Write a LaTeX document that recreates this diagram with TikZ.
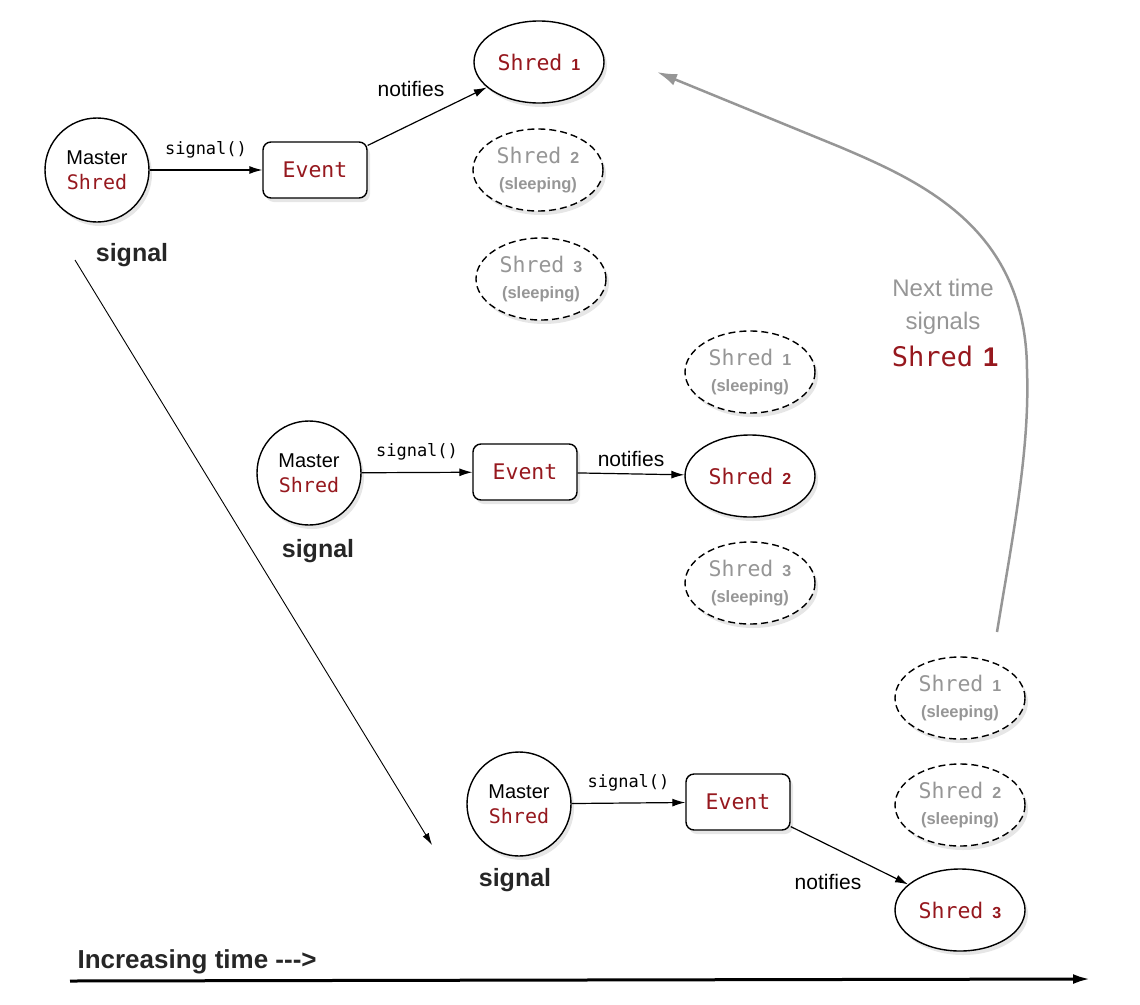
\documentclass[tikz,border=0pt]{standalone}
\usepackage{fontspec}
\setmainfont{Liberation Sans}
\newfontfamily\monofont{DejaVu Sans Mono}
\usepackage{tikz}
\usetikzlibrary{arrows.meta,shapes.geometric,shadows}
\definecolor{shredred}{RGB}{150,24,30}
\definecolor{sleepgray}{RGB}{150,150,150}

\newcommand{\shredlbl}[1]{{\monofont Shred}\hspace{9pt}{\fontsize{16}{16}\selectfont\bfseries #1}}
\newcommand{\sleeplbl}{{\fontsize{16.5}{16.5}\selectfont\bfseries (sleeping)}}

\tikzset{
  shade/.style={drop shadow={shadow xshift=3pt,shadow yshift=-4pt,opacity=0.2}},
  master/.style={circle,draw,line width=1.4pt,fill=white,minimum size=104pt,inner sep=0pt,
    align=center,font=\fontsize{20}{25}\selectfont,shade},
  eventbox/.style={rectangle,rounded corners=8pt,draw,line width=1.4pt,fill=white,
    minimum width=104pt,minimum height=56pt,text=shredred,font=\monofont\fontsize{21.5}{24}\selectfont,shade},
  awake/.style={ellipse,draw,line width=1.4pt,fill=white,minimum width=130pt,minimum height=82pt,
    inner sep=0pt,text=shredred,font=\fontsize{21.5}{26}\selectfont,shade},
  sleeping/.style={awake,dash pattern=on 7pt off 4pt,text=sleepgray,align=center},
  conn/.style={-{Latex[length=13pt,width=8pt]},line width=1.2pt},
  sigfont/.style={font=\monofont\fontsize{17}{18}\selectfont},
  notefont/.style={font=\fontsize{21}{24}\selectfont},
  bigfont/.style={font=\bfseries\fontsize{25}{28}\selectfont,text=black!85}
}

\begin{document}
\begin{tikzpicture}[x=1pt,y=-1pt]
  \useasboundingbox (0,0) rectangle (1140,1004);

  % first signal
  \node[master] (m1) at (97,170) {Master\\{\monofont\color{shredred}Shred}};
  \node[bigfont] (l1) at (132,255) {signal};
  \node[eventbox] (e1) at (315,170) {Event};
  \node[awake] (s11) at (539,62) {\shredlbl{1}};
  \node[sleeping] (s12) at (538,170) {\shredlbl{2}\\\sleeplbl};
  \node[sleeping] (s13) at (541,279) {\shredlbl{3}\\\sleeplbl};
  \draw[conn] (m1) -- node[midway,above=8pt,sigfont] (sg1) {signal()} (e1);
  \draw[conn] (e1.25) -- (s11);
  \node[notefont] (n1) at (411,89) {notifies};

  % second signal
  \node[master] (m2) at (309,473) {Master\\{\monofont\color{shredred}Shred}};
  \node[bigfont] (l2) at (318,551) {signal};
  \node[eventbox] (e2) at (525,472) {Event};
  \node[sleeping] (s21) at (750,372) {\shredlbl{1}\\\sleeplbl};
  \node[awake] (s22) at (750,476) {\shredlbl{2}};
  \node[sleeping] (s23) at (750,583) {\shredlbl{3}\\\sleeplbl};
  \draw[conn] (m2) -- node[midway,above=8pt,sigfont] (sg2) {signal()} (e2);
  \draw[conn] (e2) -- node[midway,above=3pt,notefont] (n2) {notifies} (s22);

  % third signal
  \node[master] (m3) at (519,804) {Master\\{\monofont\color{shredred}Shred}};
  \node[bigfont] (l3) at (515,880) {signal};
  \node[eventbox] (e3) at (738,802) {Event};
  \node[sleeping] (s31) at (960,698) {\shredlbl{1}\\\sleeplbl};
  \node[sleeping] (s32) at (960,805) {\shredlbl{2}\\\sleeplbl};
  \node[awake] (s33) at (960,910) {\shredlbl{3}};
  \draw[conn] (m3) -- node[midway,above=8pt,sigfont] (sg3) {signal()} (e3);
  \draw[conn] (e3.-25) -- (s33);
  \node[notefont] (n3) at (828,882) {notifies};

  % time
  \coordinate (t0) at (75,260);
  \coordinate (t1) at (432,845);
  \draw[-{Latex[length=12pt,width=7pt]},line width=0.9pt] (t0) -- (t1);
  \coordinate (a0) at (70,981);
  \coordinate (a1) at (1090,979);
  \draw[-{Latex[length=17pt,width=10pt]},line width=3pt] (a0) -- (a1);
  \node[bigfont,font=\bfseries\fontsize{26}{28}\selectfont,anchor=west] (inc) at (74,962) {Increasing time -{}-{}->};

  % next time
  \coordinate (g0) at (997,632);
  \coordinate (g1) at (657,72);
  \draw[-{Latex[length=20pt,width=12pt]},line width=2.5pt,draw=sleepgray]
    (g0) .. controls (1012,540) and (1030,450) .. (1027,370)
    .. controls (1026,230) and (925,183) .. (840,147) -- (g1);
  \node[align=center,text=sleepgray,font=\fontsize{24}{33}\selectfont] (nx) at (943,307) {Next time\\signals};
  \node[text=shredred,font=\monofont\fontsize{27}{30}\selectfont] (ns) at (945,356) {Shred\hspace{10pt}{\rmfamily\bfseries 1}};
\end{tikzpicture}
\end{document}
